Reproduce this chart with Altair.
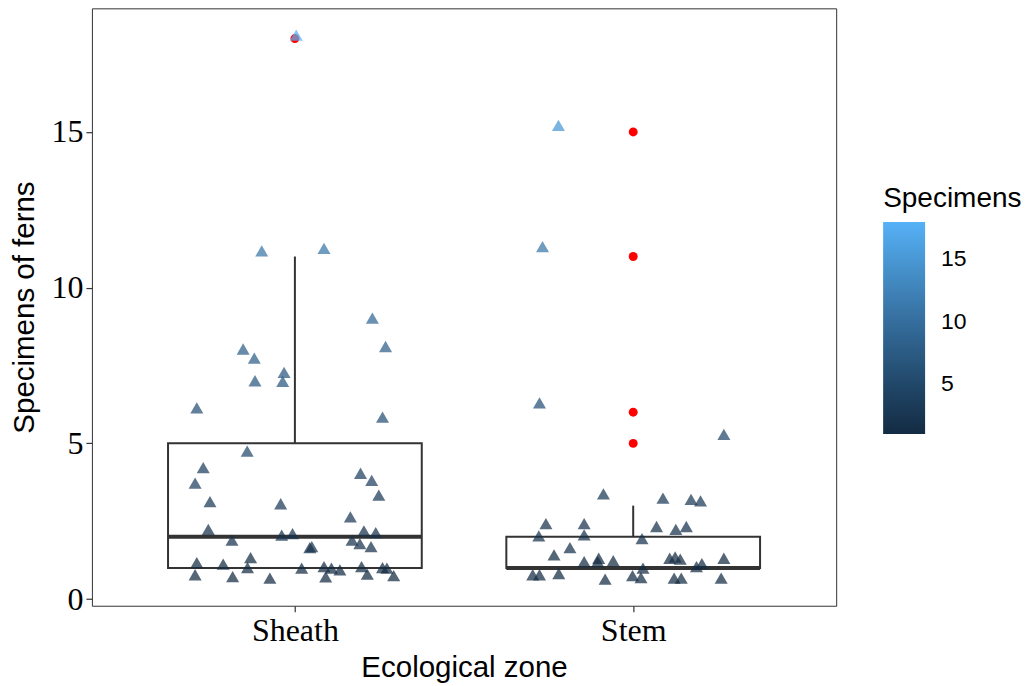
import altair as alt
import pandas as pd

# ---------------- data ----------------
categories = ["Sheath", "Stem"]

# jittered point positions (x in category units, y in counts) and raw counts
sheath_x = [1.004, 0.902, 1.086, 1.229, 1.268, 0.847, 0.880, 0.882, 0.968, 0.964,
            0.710, 1.259, 0.859, 0.729, 0.705, 0.749, 0.958, 0.744, 0.961, 0.993,
            0.814, 0.710, 0.788, 0.869, 0.860, 0.705, 0.816, 0.926, 1.194, 1.227,
            1.248, 1.164, 1.204, 1.239, 1.044, 1.050, 1.169, 1.192, 1.225, 1.020,
            1.086, 1.108, 1.133, 1.091, 1.197, 1.214, 1.259, 1.272, 1.292]
sheath_y = [18.11, 11.18, 11.26, 9.02, 8.11, 8.03, 7.74, 7.01, 7.28, 6.99,
            6.14, 5.84, 4.75, 4.22, 3.72, 3.13, 3.06, 2.24, 2.05, 2.10,
            1.89, 1.17, 1.12, 1.33, 1.01, 0.78, 0.72, 0.67, 4.04, 3.81,
            3.34, 2.64, 2.19, 2.13, 1.65, 1.68, 1.89, 1.78, 1.68, 0.99,
            1.04, 0.99, 0.94, 0.71, 1.04, 0.80, 1.01, 0.99, 0.75]
sheath_count = [18, 11, 11, 9, 8, 8, 8, 7, 7, 7,
                6, 6, 5, 4, 4, 3, 3, 2, 2, 2,
                2, 1, 1, 1, 1, 1, 1, 1, 4, 4,
                3, 3, 2, 2, 2, 2, 2, 2, 2, 1,
                1, 1, 1, 1, 1, 1, 1, 1, 1]

stem_x = [1.779, 1.732, 1.723, 2.268, 1.912, 1.742, 1.721, 1.855, 1.855, 1.813,
          1.766, 1.855, 1.898, 1.895, 1.941, 1.703, 1.723, 1.780, 1.917, 2.088,
          2.171, 2.199, 2.069, 2.126, 2.157, 2.026, 2.108, 2.124, 2.139, 2.187,
          2.203, 2.268, 2.029, 1.998, 2.023, 2.121, 2.142, 2.260]
stem_y = [15.21, 11.32, 6.30, 5.29, 3.38, 2.42, 2.03, 2.42, 2.06, 1.65,
          1.42, 1.20, 1.31, 1.20, 1.23, 0.78, 0.78, 0.82, 0.64, 3.24,
          3.20, 3.15, 2.33, 2.24, 2.33, 1.94, 1.31, 1.35, 1.28, 1.04,
          1.14, 1.31, 0.99, 0.75, 0.69, 0.67, 0.67, 0.67]
stem_count = [15, 11, 6, 5, 3, 2, 2, 2, 2, 2,
              1, 1, 1, 1, 1, 1, 1, 1, 1, 3,
              3, 3, 2, 2, 2, 2, 1, 1, 1, 1,
              1, 1, 1, 1, 1, 1, 1, 1]

# boxplot statistics per category
box_q1 = [1, 1]
box_median = [2, 1]
box_q3 = [5, 2]
whisker_low = [1, 1]
whisker_high = [11, 3]
outliers_sheath = [18]
outliers_stem = [5, 6, 11, 15]

# ---------------- tables ----------------
BOX_W = 0.75
pos = [i + 1 for i in range(len(categories))]
box_df = pd.DataFrame({
    "pos": pos,
    "left": [p - BOX_W / 2 for p in pos],
    "right": [p + BOX_W / 2 for p in pos],
    "q1": box_q1, "median": box_median, "q3": box_q3,
    "wlo": whisker_low, "whi": whisker_high,
})
out_df = pd.DataFrame({
    "pos": [1] * len(outliers_sheath) + [2] * len(outliers_stem),
    "value": outliers_sheath + outliers_stem,
})
pts_df = pd.DataFrame({
    "x": sheath_x + stem_x,
    "y": sheath_y + stem_y,
    "Specimens": sheath_count + stem_count,
})

# ---------------- chart ----------------
W, H = 745, 598
xscale = alt.Scale(domain=[0.4, 2.6], nice=False, zero=False)
yscale = alt.Scale(domain=[-0.215, 18.97], nice=False, zero=False)
GREY = "#333333"

label_expr = " : ".join(
    [f"datum.value == {p} ? '{c}'" for p, c in zip(pos, categories)]) + " : ''"

xaxis = alt.Axis(values=pos, labelExpr=label_expr, title="Ecological zone",
                 grid=False, domain=False, tickSize=6, tickColor=GREY, tickWidth=1.2,
                 labelFont="Liberation Serif", labelFontSize=32, labelColor="black",
                 labelPadding=4, titleFont="Liberation Sans", titleFontSize=29.5,
                 titleFontWeight="normal", titleColor="black", titlePadding=7)
yaxis = alt.Axis(values=[0, 5, 10, 15], title="Specimens of ferns",
                 grid=False, domain=False, tickSize=6, tickColor=GREY, tickWidth=1.2,
                 labelFont="Liberation Serif", labelFontSize=32, labelColor="black",
                 labelPadding=3, titleFont="Liberation Sans", titleFontSize=29.5,
                 titleFontWeight="normal", titleColor="black", titlePadding=11)


def X(field):
    return alt.X(field, scale=xscale, axis=xaxis)


def Y(field):
    return alt.Y(field, scale=yscale, axis=yaxis)


box = alt.Chart(box_df).mark_rect(fill="white", stroke=GREY, strokeWidth=2).encode(
    x=X("left:Q"), x2="right:Q", y=Y("q1:Q"), y2="q3:Q",
)
whisk_hi = alt.Chart(box_df).mark_rule(color=GREY, strokeWidth=2).encode(
    x=X("pos:Q"), y=Y("q3:Q"), y2="whi:Q",
)
whisk_lo = alt.Chart(box_df).mark_rule(color=GREY, strokeWidth=2).encode(
    x=X("pos:Q"), y=Y("wlo:Q"), y2="q1:Q",
)
median = alt.Chart(box_df).mark_rule(color=GREY, strokeWidth=4).encode(
    x=X("left:Q"), x2="right:Q", y=Y("median:Q"),
)
outl = alt.Chart(out_df).mark_circle(color="red", size=80, opacity=1).encode(
    x=X("pos:Q"), y=Y("value:Q"),
)
pts = alt.Chart(pts_df).mark_point(shape="triangle-up", filled=True, size=170,
                                   fillOpacity=0.72, strokeWidth=0).encode(
    x=X("x:Q"), y=Y("y:Q"),
    color=alt.Color("Specimens:Q",
                    scale=alt.Scale(domain=[1, 18], range=["#132B43", "#56B1F7"],
                                    interpolate="lab"),
                    legend=alt.Legend(title="Specimens", orient="none",
                                      legendX=792, legendY=177, direction="vertical",
                                      gradientLength=212, gradientThickness=42,
                                      gradientStrokeWidth=0, values=[5, 10, 15],
                                      labelFont="Liberation Sans", labelFontSize=23,
                                      labelColor="black", labelOffset=16,
                                      titleFont="Liberation Sans", titleFontSize=28,
                                      titleFontWeight="normal", titleColor="black",
                                      titlePadding=9)),
)

chart = alt.layer(box, whisk_hi, whisk_lo, median, outl, pts).properties(
    width=W, height=H,
    padding={"left": 2, "top": 0, "right": 0, "bottom": 0},
    background="white",
).configure_view(stroke=GREY, strokeWidth=1)

chart.save("out.html", embed_options={"renderer": "svg", "actions": False})
